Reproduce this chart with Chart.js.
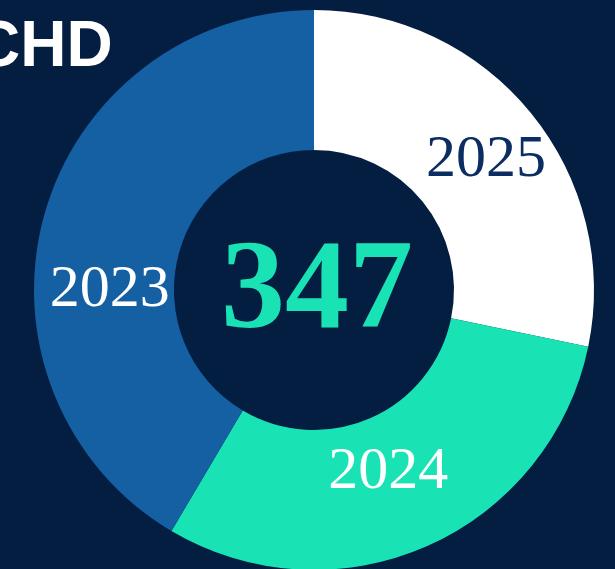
<!DOCTYPE html>
<html>
<head>
<meta charset="utf-8">
<script src="https://cdn.jsdelivr.net/npm/chart.js@4/dist/chart.umd.min.js"></script>
<style>
  html, body { margin: 0; padding: 0; width: 615px; height: 569px; overflow: hidden; background: #041E42; }
  #wrap { position: absolute; left: 0; top: 0; width: 628px; height: 580px; }
  #title { position: absolute; left: -26px; top: 6px; font: bold 64px "Liberation Sans", Arial, sans-serif; color: #ffffff; line-height: 76px; white-space: nowrap; }
</style>
</head>
<body>
<div id="title">CHD</div>
<div id="wrap"><canvas id="c" width="628" height="580"></canvas></div>
<script>
const categories = ["2025", "2024", "2023"];
const values = [98, 105, 144];
const total = 347;
const segmentColors = ["#FFFFFF", "#19E3B5", "#155FA3"];
const labelColors = ["#0C2D62", "#FFFFFF", "#FFFFFF"];

// label placement: angle (deg clockwise from top) and radius as fraction of outer radius
const labelPlacement = [
  { angle: 52, r: 0.78 },
  { angle: 157.4, r: 0.69 },
  { angle: 271, r: 0.73 }
];

const labelPlugin = {
  id: 'labels',
  afterDraw(chart) {
    const ctx = chart.ctx;
    const meta = chart.getDatasetMeta(0);
    const arc0 = meta.data[0];
    const cx = arc0.x, cy = arc0.y, R = arc0.outerRadius;
    ctx.save();
    ctx.textAlign = 'center';
    ctx.textBaseline = 'alphabetic';
    ctx.font = '60px "Liberation Serif", "Times New Roman", serif';
    categories.forEach((lab, i) => {
      const p = labelPlacement[i];
      const a = p.angle * Math.PI / 180;
      const x = cx + Math.sin(a) * R * p.r;
      const y = cy - Math.cos(a) * R * p.r + 20;
      ctx.fillStyle = labelColors[i];
      ctx.fillText(lab, x, y);
    });
    ctx.font = 'bold 128px "Liberation Serif", "Times New Roman", serif';
    ctx.fillStyle = '#19E3B5';
    ctx.fillText(String(total), cx + 3, cy + 37);
    ctx.restore();
  }
};

new Chart(document.getElementById('c'), {
  type: 'doughnut',
  data: {
    labels: categories,
    datasets: [{
      data: values,
      backgroundColor: segmentColors,
      borderWidth: 0,
      hoverOffset: 0
    }]
  },
  options: {
    responsive: false,
    animation: false,
    cutout: '50%',
    layout: { padding: 10 },
    plugins: { legend: { display: false }, tooltip: { enabled: false } }
  },
  plugins: [labelPlugin]
});
</script>
</body>
</html>
